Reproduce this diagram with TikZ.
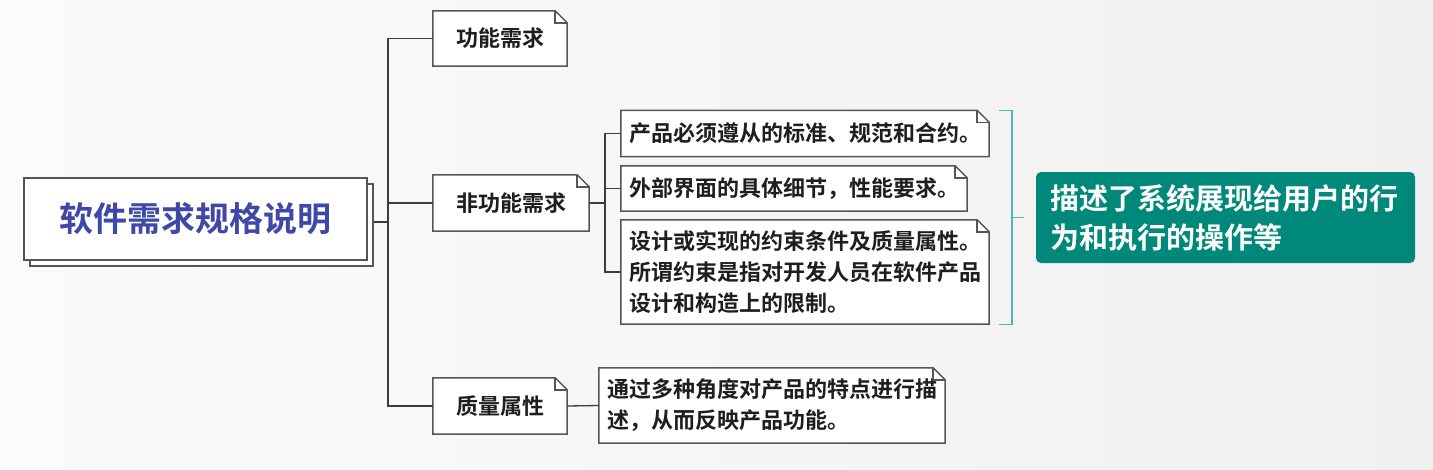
\documentclass[tikz,border=0pt]{standalone}
\usepackage{fontspec}
\setmainfont{Noto Sans CJK SC}[BoldFont={Noto Sans CJK SC Bold}]
\usetikzlibrary{calc, positioning}
\pgfdeclarelayer{paper}
\pgfdeclarelayer{boxes}
\pgfsetlayers{paper,boxes,main}

\definecolor{titleblue}{RGB}{63,72,168}
\definecolor{boxgray}{RGB}{85,85,85}
\definecolor{linegray}{RGB}{60,60,60}
\definecolor{textdark}{RGB}{30,30,30}
\definecolor{tealbox}{RGB}{0,137,123}
\definecolor{tealline}{RGB}{77,182,172}
\definecolor{bgleft}{RGB}{251,251,251}
\definecolor{bgright}{RGB}{240,240,240}

\newlength{\foldsize}
\setlength{\foldsize}{12pt}
% outline with a folded top right corner, drawn behind the node
\newcommand{\dogear}[1]{%
  \begin{pgfonlayer}{boxes}
    \filldraw[boxline, fill=white] (#1.south west) -- (#1.north west) -- ([xshift=-\foldsize]#1.north east)
      -- ([yshift=-\foldsize]#1.north east) -- (#1.south east) -- cycle;
  \end{pgfonlayer}
  \draw[boxline] ([xshift=-\foldsize]#1.north east) |- ([yshift=-\foldsize]#1.north east);
}

\begin{document}
\begin{tikzpicture}[
    x=1pt, y=-1pt,
    boxline/.style={draw=boxgray, line width=1.5pt, line join=miter},
    link/.style={draw=linegray, line width=1.3pt},
    brace/.style={draw=tealline, line width=1.3pt},
    titlebox/.style={boxline, fill=white, minimum width=343pt, minimum height=82pt, inner sep=0pt},
    labelbox/.style={inner sep=0pt, text=textdark, font=\fontsize{22}{26}\selectfont\bfseries},
    notebox/.style={inner xsep=8pt, inner ysep=0pt, align=left, text=textdark, font=\fontsize{22}{31}\selectfont\bfseries},
    summarybox/.style={fill=tealbox, rounded corners=5pt, text=white, align=left, inner xsep=14pt,
      text width=351pt, minimum height=91pt, font=\fontsize{29}{39}\selectfont\bfseries}
  ]
  \useasboundingbox (0,0) rectangle (1433,469);
  \begin{pgfonlayer}{paper}
    \shade[left color=bgleft, right color=bgright] (0,0) rectangle (1433,469);
  \end{pgfonlayer}

  % root
  \node[titlebox] (specshadow) at (201.5,225) {};
  \node[titlebox, text=titleblue, font=\fontsize{34}{40}\selectfont\bfseries] (spec) at (195.5,219) {软件需求规格说明};

  % first level
  \node[labelbox, minimum width=134pt, minimum height=55pt] (func) at (500,38.5) {功能需求};
  \node[labelbox, minimum width=156pt, minimum height=56pt] (nonfunc) at (511,203) {非功能需求};
  \node[labelbox, minimum width=134pt, minimum height=56pt] (qual) at (500,406) {质量属性};
  \dogear{func}
  \dogear{nonfunc}
  \dogear{qual}

  % second level
  \node[notebox, text width=352pt, minimum height=46pt] (std) at (805,133.5) {产品必须遵从的标准、规范和合约。};
  \node[notebox, text width=330pt, minimum height=45pt] (iface) at (794,188.5) {外部界面的具体细节，性能要求。};
  \node[notebox, text width=352pt, minimum height=104pt] (cons) at (805,272)
    {设计或实现的约束条件及质量属性。\\所谓约束是指对开发人员在软件产品\\设计和构造上的限制。};
  \node[notebox, text width=330pt, minimum height=75pt, font=\fontsize{22}{31}\selectfont\bfseries] (qdesc) at (772,405.5)
    {通过多种角度对产品的特点进行描\\述，从而反映产品功能。};
  \dogear{std}
  \dogear{iface}
  \dogear{cons}
  \dogear{qdesc}

  \node[summarybox] (summary) at (1225.5,217.5) {描述了系统展现给用户的行\\为和执行的操作等};

  % connectors
  \coordinate (trunkA) at (388,0);
  \coordinate (trunkB) at (605,0);
  \draw[link] (func.west) -- (func.west -| trunkA) -- (qual.west -| trunkA) -- (qual.west);
  \draw[link] ([yshift=3pt]specshadow.east) -- ([yshift=3pt]specshadow.east -| trunkA);
  \draw[link] (nonfunc.west) -- (nonfunc.west -| trunkA);
  \draw[link] (nonfunc.east) -- (nonfunc.east -| trunkB);
  \draw[link] (std.west) -- (std.west -| trunkB) -- (cons.west -| trunkB) -- (cons.west);
  \draw[link] (iface.west) -- (iface.west -| trunkB);
  \draw[link] (qual.east) -- (qdesc.west);

  % bracket
  \coordinate (tickL) at (999,0);
  \coordinate (brk) at (1012,0);
  \draw[brace] (std.north -| tickL) -- (std.north -| brk) -- (cons.south -| brk) -- (cons.south -| tickL);
  \draw[brace] (summary.west -| brk) -- ([xshift=-12pt]summary.west);
\end{tikzpicture}
\end{document}
